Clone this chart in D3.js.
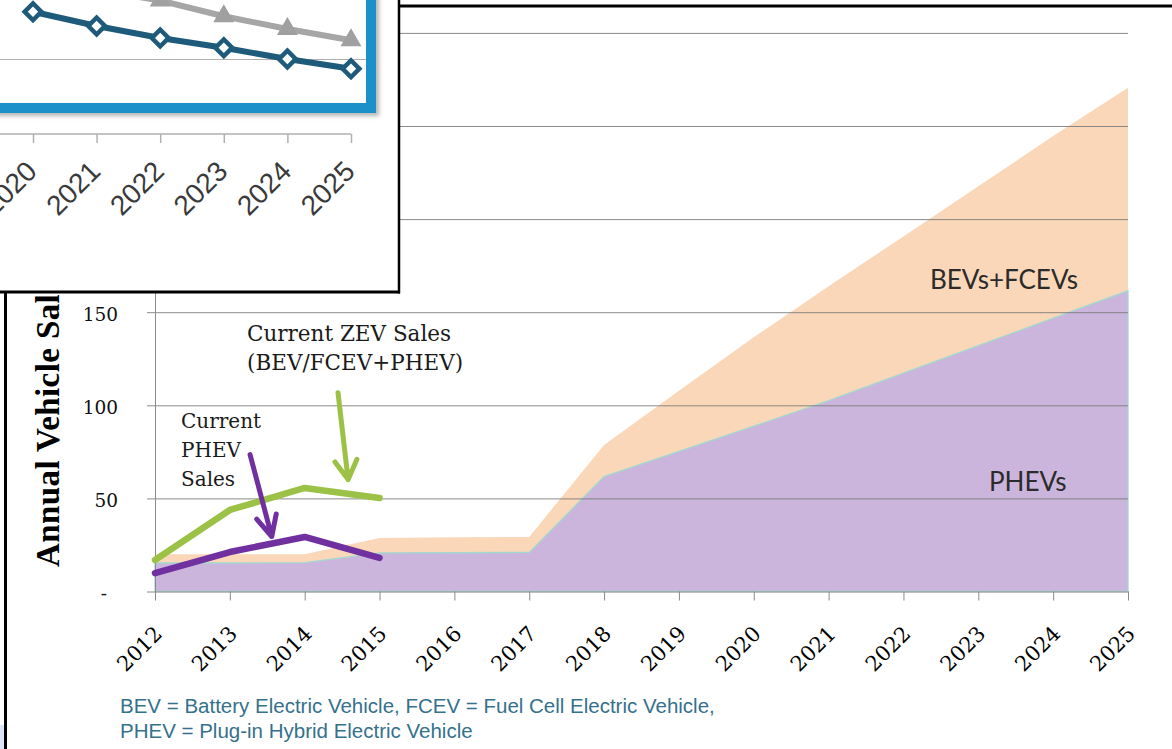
<!DOCTYPE html>
<html><head><meta charset="utf-8">
<script src="https://cdn.jsdelivr.net/npm/d3@7"></script>
<style>
html,body{margin:0;padding:0;background:#fff;}
svg{display:block;}
</style></head>
<body>
<svg id="chart" width="1172" height="749"></svg>
<script>
// ---------- data ----------
const years = [2012,2013,2014,2015,2016,2017,2018,2019,2020,2021,2022,2023,2024,2025];
const phevValues    = [15.3,15.3,15.5,20.7,20.8,21.0,61.7,75.2,88.8,102.5,117.3,132.0,146.8,161.5];
const bevFcevValues = [4.7,4.7,4.5,8.0,8.4,8.3,17.0,32.6,47.7,61.5,73.4,85.6,97.8,109.0];
const currentYears = [2012,2013,2014,2015];
const currentZevSales  = [16.9,43.8,55.6,50.2];
const currentPhevSales = [9.9,21.2,29.3,18.0];
const yTickValues = [0,50,100,150];
const yGridValues = [50,100,150,200,250,300];
const footnoteLines = ["BEV = Battery Electric Vehicle, FCEV = Fuel Cell Electric Vehicle,",
                       "PHEV = Plug-in Hybrid Electric Vehicle"];
// annotation arrows in data units [year, value]
const arrowZev  = [[2014.445,106.8],[2014.58,60.1]];
const arrowPhev = [[2013.27,73.5],[2013.56,29.5]];
// inset (cropped second chart)
const insetYears = [2020,2021,2022,2023,2024,2025];
const insetDiamondSeries  = [16.3,14.4,12.8,11.5,10.0,8.7];
const insetTriangleSeries = [20.8,19.2,17.8,15.7,14.0,12.5];

// ---------- setup ----------
const svg = d3.select("#chart");
const defs = svg.append("defs");
defs.append("clipPath").attr("id","titleClip").append("rect")
  .attr("x",0).attr("y",294).attr("width",200).attr("height",455);
defs.append("clipPath").attr("id","insetClip").append("rect")
  .attr("x",0).attr("y",0).attr("width",401).attr("height",294);
const f = defs.append("filter").attr("id","shadow").attr("x","-20%").attr("y","-20%").attr("width","140%").attr("height","140%");
f.append("feDropShadow").attr("dx",3).attr("dy",3).attr("stdDeviation",2)
  .attr("flood-color","#777").attr("flood-opacity",0.55);

const x = d3.scaleLinear().domain([2012,2025]).range([155,1128]);
const y = d3.scaleLinear().domain([0,300]).range([591.5,32.9]);

const main = svg.append("g");

// stacked areas
const table = years.map((yr,i)=>({year:yr, phev:phevValues[i], bev:bevFcevValues[i]}));
const stacked = d3.stack().keys(["phev","bev"])(table);
const area = d3.area().x(d=>x(d.data.year)).y0(d=>y(d[0])).y1(d=>y(d[1]));
main.append("path").datum(stacked[1]).attr("d",area).attr("fill","#fad7b8");
main.append("path").datum(stacked[0]).attr("d",area).attr("fill","#cbb5dc")
  .attr("stroke","#a3d8cf").attr("stroke-width",1.3);

// gridlines
const grid = main.append("g").attr("transform",`translate(${x(2012)},0)`)
  .call(d3.axisLeft(y).tickValues(yGridValues).tickSizeInner(-(x(2025)-x(2012))).tickSizeOuter(0).tickFormat(""));
grid.select(".domain").remove();
grid.selectAll("line").attr("stroke","#777").attr("stroke-opacity",0.85);

// y axis
const yAxis = main.append("g").attr("transform",`translate(${x(2012)},0)`)
  .call(d3.axisLeft(y).tickValues(yTickValues).tickSizeInner(8).tickSizeOuter(0).tickPadding(29)
    .tickFormat(d=> d===0 ? "-" : d));
yAxis.select(".domain").attr("stroke","#8a8a8a");
yAxis.selectAll("line").attr("stroke","#8a8a8a");
yAxis.selectAll("text").attr("dy","0.45em")
  .style("font-family","'DejaVu Serif', serif").style("font-size","18.5px").attr("fill","#111");
yAxis.selectAll("text").filter(d=>d===0).attr("dx",-11);

// x axis
const xAxis = main.append("g").attr("transform",`translate(0,${y(0)})`)
  .call(d3.axisBottom(x).tickValues(years).tickSizeInner(9).tickSizeOuter(0).tickFormat(d3.format("d")));
xAxis.select(".domain").attr("stroke","#8a8a8a");
xAxis.selectAll("line").attr("stroke","#8a8a8a");
xAxis.selectAll("text").attr("x",0).attr("y",0).attr("dy",0)
  .attr("text-anchor","end").attr("transform","translate(8,43.5) rotate(-45)")
  .style("font-family","'DejaVu Serif', serif").style("font-size","21px").attr("fill","#000");

// y title (clipped where the inset covers it)
main.append("g").attr("clip-path","url(#titleClip)")
  .append("text")
  .attr("transform","translate(58.5,567) rotate(-90)")
  .style("font-family","'Liberation Serif', serif").style("font-weight","bold").style("font-size","33px")
  .style("letter-spacing","0.4px")
  .attr("fill","#000").text("Annual Vehicle Sales");

// current sales lines
const line = d3.line().x((d,i)=>x(currentYears[i])).y(d=>y(d));
main.append("path").datum(currentZevSales).attr("d",line).attr("fill","none")
  .attr("stroke","#9bc247").attr("stroke-width",6.5).attr("stroke-linecap","round").attr("stroke-linejoin","round");
main.append("path").datum(currentPhevSales).attr("d",line).attr("fill","none")
  .attr("stroke","#7030a0").attr("stroke-width",6.5).attr("stroke-linecap","round").attr("stroke-linejoin","round");

// arrows
function drawArrow(pts,color,ang,len){
  const [x0,y0]=[x(pts[0][0]),y(pts[0][1])], [x1,y1]=[x(pts[1][0]),y(pts[1][1])];
  const a = Math.atan2(y0-y1,x0-x1), r=ang*Math.PI/180;
  const p1=[x1+len*Math.cos(a+r), y1+len*Math.sin(a+r)];
  const p2=[x1+len*Math.cos(a-r), y1+len*Math.sin(a-r)];
  main.append("path").attr("d",`M${x0},${y0}L${x1},${y1}M${p1[0]},${p1[1]}L${x1},${y1}L${p2[0]},${p2[1]}`)
    .attr("fill","none").attr("stroke",color).attr("stroke-width",5)
    .attr("stroke-linecap","round").attr("stroke-linejoin","round");
}
drawArrow(arrowZev,"#9bc247",30,22);
drawArrow(arrowPhev,"#7030a0",26,23);

// annotations
const serif = "'DejaVu Serif', serif";
main.append("text").attr("x",247).attr("y",341).style("font-family",serif).style("font-size","21.5px").attr("fill","#1a1a1a").text("Current ZEV Sales");
main.append("text").attr("x",247).attr("y",370).style("font-family",serif).style("font-size","21.5px").attr("fill","#1a1a1a").text("(BEV/FCEV+PHEV)");
["Current","PHEV","Sales"].forEach((t,i)=>{
  main.append("text").attr("x",181).attr("y",428+i*29).style("font-family",serif).style("font-size","20px").attr("fill","#1a1a1a").text(t);
});
main.append("text").attr("x",930).attr("y",289).style("font-family","Lato, sans-serif").style("font-size","26px").attr("fill","#2b2b2b").text("BEVs+FCEVs");
main.append("text").attr("x",989).attr("y",491).style("font-family","Lato, sans-serif").style("font-size","26px").attr("fill","#2b2b2b").text("PHEVs");

// footnote
footnoteLines.forEach((t,i)=>{
  main.append("text").attr("x",120).attr("y",713+i*25)
    .style("font-family","'Liberation Sans', Arial, sans-serif").style("font-size","20.5px")
    .attr("fill","#35718c").text(t);
});

// frame lines of main chart
main.append("line").attr("x1",399).attr("x2",1172).attr("y1",6).attr("y2",6).attr("stroke","#000").attr("stroke-width",3);
main.append("line").attr("x1",5.5).attr("x2",5.5).attr("y1",292).attr("y2",749).attr("stroke","#000").attr("stroke-width",3);
main.append("rect").attr("x",0).attr("y",725).attr("width",4).attr("height",24).attr("fill","#dbe5f6");

// ---------- inset ----------
const inset = svg.append("g").attr("clip-path","url(#insetClip)");
inset.append("rect").attr("x",0).attr("y",0).attr("width",400).attr("height",293).attr("fill","#fff");
const xi = d3.scaleLinear().domain([2020,2025]).range([33,351]);
const yi = d3.scaleLinear().domain([0,10]).range([134,59]);

const igrid = inset.append("g").call(d3.axisLeft(yi).tickValues([10]).tickSizeInner(-366).tickSizeOuter(0).tickFormat(""));
igrid.select(".domain").remove();
igrid.selectAll("line").attr("stroke","#b0b0b0").attr("stroke-width",1.2);

const xiAxis = inset.append("g").attr("transform",`translate(0,${yi(0)})`)
  .call(d3.axisBottom(xi).tickValues(insetYears).tickSizeInner(9).tickSizeOuter(0).tickFormat(d3.format("d")));
xiAxis.select(".domain").remove();
xiAxis.append("line").attr("x1",0).attr("x2",xi(2025)).attr("stroke","#b0b0b0").attr("stroke-width",1.5);
xiAxis.selectAll(".tick line").attr("stroke","#b0b0b0").attr("stroke-width",1.5);
xiAxis.selectAll("text").attr("x",0).attr("y",0).attr("dy",0)
  .attr("text-anchor","end").attr("transform","translate(5,39) rotate(-45)")
  .style("font-family","'Liberation Sans', Arial, sans-serif").style("font-size","28px").attr("fill","#3a3a3a");

const iline = d3.line().x((d,i)=>xi(insetYears[i])).y(d=>yi(d));
inset.append("path").datum(insetTriangleSeries).attr("d",iline).attr("fill","none")
  .attr("stroke","#a6a6a6").attr("stroke-width",6).attr("stroke-linejoin","round");
inset.selectAll(".tri").data(insetTriangleSeries).join("path")
  .attr("transform",(d,i)=>`translate(${xi(insetYears[i])},${yi(d)})`)
  .attr("d",d3.symbol().type(d3.symbolTriangle).size(190)).attr("fill","#a0a0a0");
inset.append("path").datum(insetDiamondSeries).attr("d",iline).attr("fill","none")
  .attr("stroke","#1e5b7b").attr("stroke-width",6).attr("stroke-linejoin","round");
inset.selectAll(".dia").data(insetDiamondSeries).join("path")
  .attr("transform",(d,i)=>`translate(${xi(insetYears[i])},${yi(d)}) rotate(45)`)
  .attr("d",d3.symbol().type(d3.symbolSquare).size(140))
  .attr("fill","#fff").attr("stroke","#1e5b7b").attr("stroke-width",4.5);

// blue highlight frame
inset.append("rect").attr("x",-20).attr("y",-20).attr("width",391).attr("height",128)
  .attr("fill","none").attr("stroke","#1a90c9").attr("stroke-width",10).attr("filter","url(#shadow)");

// inset borders
svg.append("line").attr("x1",399).attr("x2",399).attr("y1",0).attr("y2",293.5).attr("stroke","#000").attr("stroke-width",2.5);
svg.append("line").attr("x1",0).attr("x2",400).attr("y1",292).attr("y2",292).attr("stroke","#000").attr("stroke-width",3);
</script>
</body></html>
